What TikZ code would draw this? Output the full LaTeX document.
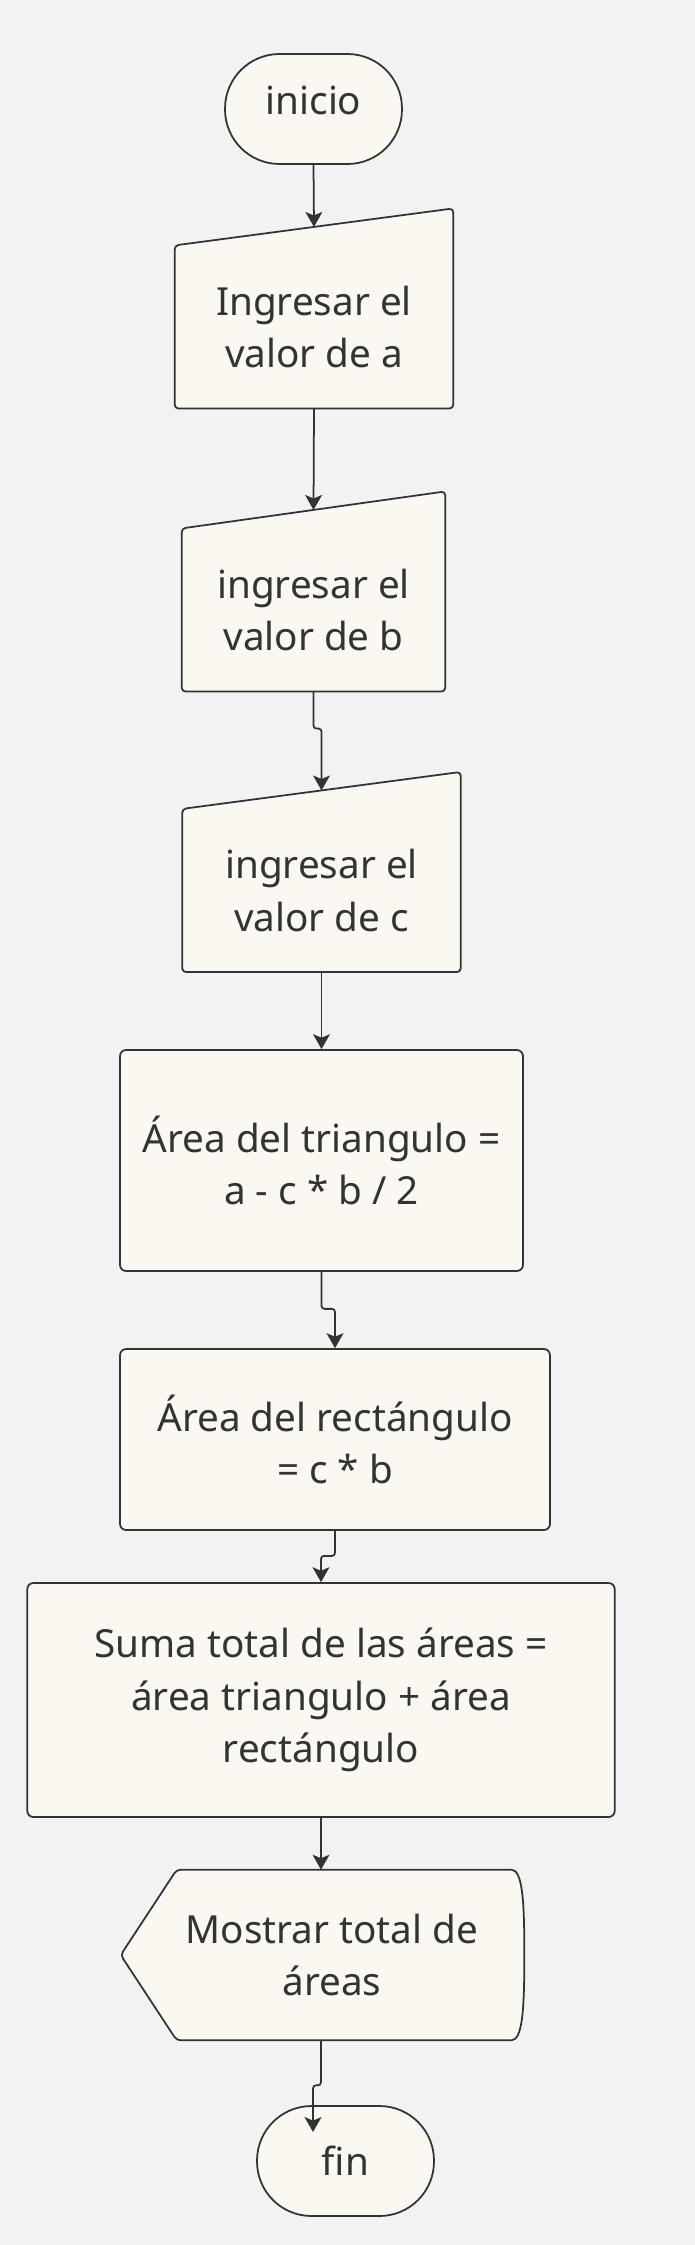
\documentclass[tikz,border=0pt]{standalone}
\usepackage{fontspec}
\setmainfont{Noto Sans}
\usepackage{xcolor}
\usetikzlibrary{arrows.meta, backgrounds}
\definecolor{bgcol}{HTML}{F2F2F2}
\definecolor{boxfill}{HTML}{FBF8F1}
\definecolor{ink}{HTML}{333333}
\tikzstyle{terminal} = [rectangle, rounded corners=1.09cm, minimum width=3.54cm, minimum height=2.2cm, text centered, draw=ink, fill=boxfill, line width=1pt]
\tikzstyle{inputbox} = [rectangle, minimum height=3.25cm, align=center]
\tikzstyle{process} = [rectangle, rounded corners=0.12cm, align=center, draw=ink, fill=boxfill, line width=1pt]
\tikzstyle{display} = [rectangle, minimum width=7.68cm, minimum height=3.4cm, align=center]
\tikzstyle{outline} = [draw=ink, fill=boxfill, line width=1pt, rounded corners=0.08cm]
\tikzstyle{arrow} = [line width=1pt, draw=ink, -{Stealth[length=8.5pt,width=9.6pt,inset=2pt]}]

\begin{document}
\begin{tikzpicture}[x=0.02cm, y=-0.02cm, font=\fontsize{22}{30}\selectfont, text=ink]
\node (inicio) [terminal, text depth=9.6pt] at (313.5,109) {inicio};
\node (ina) [inputbox, minimum width=5.56cm] at (314,327) {Ingresar el\\valor de a};
\node (inb) [inputbox, minimum width=5.26cm] at (313.5,610) {ingresar el\\valor de b};
\node (inc) [inputbox, minimum width=5.56cm] at (321.5,890.5) {ingresar el\\valor de c};
\node (tri) [process, minimum width=8.06cm, minimum height=4.42cm] at (321.5,1160.5) {Área del triangulo =\\a - c * b / 2};
\node (rect) [process, minimum width=8.6cm, minimum height=3.62cm] at (335,1439.5) {Área del rectángulo\\= c * b};
\node (suma) [process, minimum width=11.75cm, minimum height=4.68cm] at (321,1700) {Suma total de las áreas =\\área triangulo + área\\rectángulo};
\node (disp) [display] at (332,1955) {Mostrar total de\\áreas};
\node (fin) [terminal] at (345.5,2161) {fin};
\coordinate (finin) at (313,2132);

% outlines that are not plain boxes
\begin{scope}[on background layer]
\fill[bgcol] (0,0) rectangle (695,2245);
\foreach \n in {ina,inb,inc}
  \draw[outline] (\n.south west) -- (\n.north west) -- ([yshift=0.74cm]\n.north east) -- (\n.south east) -- cycle;
\draw[outline] ([xshift=-0.38cm]disp.west) -- ([xshift=0.74cm]disp.north west) -- ([xshift=-0.34cm]disp.north east)
  .. controls ([xshift=-0.04cm]disp.north east) and ([yshift=1.1cm]disp.east) .. (disp.east)
  .. controls ([yshift=-1.1cm]disp.east) and ([xshift=-0.04cm]disp.south east) .. ([xshift=-0.34cm]disp.south east)
  -- ([xshift=0.74cm]disp.south west) -- cycle;
\end{scope}

\draw [arrow] (inicio.south) -- ([yshift=0.37cm]ina.north);
\draw [arrow] (ina.south) -- ([yshift=0.37cm]inb.north);
\draw [arrow] (inb.south) [rounded corners=0.06cm] -- ++(0,37) -| ([yshift=0.37cm]inc.north);
\draw [arrow] (inc.south) -- (tri.north);
\draw [arrow] (tri.south) [rounded corners=0.06cm] -- ++(0,37) -| (rect.north);
\draw [arrow] (rect.south) [rounded corners=0.06cm] -- ++(0,25) -| (suma.north);
\draw [arrow] (suma.south) -- (suma.south |- disp.north);
\draw [arrow] (disp.south -| suma.south) [rounded corners=0.06cm] -- ++(0,45) -| (finin);
\end{tikzpicture}
\end{document}
